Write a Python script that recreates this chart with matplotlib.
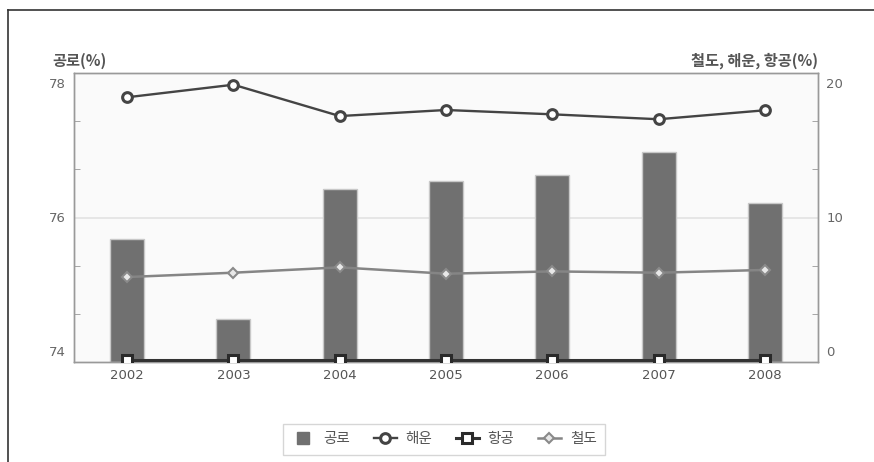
import matplotlib
matplotlib.use("Agg")
import matplotlib.pyplot as plt
from matplotlib.lines import Line2D
import matplotlib.transforms as mtrans
import numpy as np

plt.rcParams['font.family'] = ['Noto Sans CJK KR', 'DejaVu Sans']

years = ['2002', '2003', '2004', '2005', '2006', '2007', '2008']
road = [75.70, 74.59, 76.39, 76.50, 76.59, 76.91, 76.20]        # 공로 (left axis)
sea = [18.32, 19.19, 17.02, 17.44, 17.14, 16.80, 17.42]         # 해운 (right axis)
air = [0.15, 0.15, 0.15, 0.15, 0.15, 0.15, 0.15]                # 항공 (right axis)
rail = [5.88, 6.18, 6.55, 6.11, 6.27, 6.18, 6.37]               # 철도 (right axis)
left_ticks = [74, 76, 78]
right_ticks = [0, 10, 20]

W, H = 874, 462
fig = plt.figure(figsize=(W / 100, H / 100), dpi=100)
fig.patch.set_facecolor('white')

# outer frame lines (top and left)
fig.add_artist(Line2D([8 / W, 1.0], [1 - 10 / H, 1 - 10 / H], color='#333333', lw=1.2))
fig.add_artist(Line2D([8 / W, 8 / W], [0, 1 - 10 / H], color='#333333', lw=1.2))

ax = fig.add_axes([74 / W, 1 - 362 / H, (818 - 74) / W, (362 - 73) / H])
ax.set_facecolor('#fafafa')
x = np.arange(len(years))

ax.set_xlim(-0.5, len(years) - 0.5)
ax.set_ylim(74, 78)
ax.axhline(76, color='#e2e2e2', lw=1.2, zorder=0)
ax.bar(x, [v - 74 for v in road], bottom=74, width=0.32, color='#707070',
       edgecolor='#c8c8c8', linewidth=1, zorder=2)

ax2 = ax.twinx()
ax2.set_ylim(0, 20)
ax2.plot(x, rail, color='#858585', lw=1.8, marker='D', markersize=5.5,
         markerfacecolor='#e8e8e8', markeredgecolor='#8a8a8a', markeredgewidth=1.5, zorder=3)
ax2.plot(x, sea, color='#444444', lw=1.7, marker='o', markersize=7,
         markerfacecolor='white', markeredgecolor='#444444', markeredgewidth=2.2, zorder=4)
ax2.plot(x, air, color='#333333', lw=2.2, marker='s', markersize=7,
         markerfacecolor='white', markeredgecolor='#2a2a2a', markeredgewidth=2.2, zorder=4)

for a in (ax, ax2):
    for s in a.spines.values():
        s.set_color('#999999')
        s.set_linewidth(1)

ax.set_xticks(x)
ax.set_xticklabels(years, color='#555555', fontsize=9.5, family='DejaVu Sans')
ax.tick_params(axis='x', length=0, pad=5)

# y ticks: labels placed slightly inward like the reference
ax.set_yticks(left_ticks)
ax.set_yticklabels([str(t) for t in left_ticks], color='#666666', fontsize=9.5, family='DejaVu Sans')
ax.tick_params(axis='y', length=0, pad=6)
ax2.set_yticks(right_ticks)
ax2.set_yticklabels([str(t) for t in right_ticks], color='#666666', fontsize=9.5, family='DejaVu Sans')
ax2.tick_params(axis='y', length=0, pad=6)

for a in (ax, ax2):
    labs = a.get_yticklabels()
    off_top = mtrans.ScaledTranslation(0, -10 / 100, fig.dpi_scale_trans)
    off_bot = mtrans.ScaledTranslation(0, 11 / 100, fig.dpi_scale_trans)
    labs[-1].set_transform(labs[-1].get_transform() + off_top)
    labs[0].set_transform(labs[0].get_transform() + off_bot)

# small inner ticks at sixths
ax.set_yticks([74 + 4 * k / 6 for k in range(1, 6)], minor=True)
ax.tick_params(axis='y', which='minor', direction='in', length=4, color='#999999', labelleft=False)
ax2.set_yticks([20 * k / 6 for k in range(1, 6)], minor=True)
ax2.tick_params(axis='y', which='minor', direction='in', length=4, color='#999999', labelright=False)

# axis titles
fig.text(52 / W, 1 - 61 / H, '공로(%)', ha='left', va='center', fontsize=11,
         color='#555555', fontweight='bold')
fig.text(818 / W, 1 - 61 / H, '철도, 해운, 항공(%)', ha='right', va='center', fontsize=11,
         color='#555555', fontweight='bold')

handles = [
    Line2D([], [], linestyle='none', marker='s', markersize=9,
           markerfacecolor='#707070', markeredgecolor='#707070'),
    Line2D([], [], color='#444444', lw=1.7, marker='o', markersize=7,
           markerfacecolor='white', markeredgecolor='#444444', markeredgewidth=2.2),
    Line2D([], [], color='#333333', lw=2.2, marker='s', markersize=7,
           markerfacecolor='white', markeredgecolor='#2a2a2a', markeredgewidth=2.2),
    Line2D([], [], color='#858585', lw=1.8, marker='D', markersize=5.5,
           markerfacecolor='#e8e8e8', markeredgecolor='#8a8a8a', markeredgewidth=1.5),
]
leg = fig.legend(handles, ['공로', '해운', '항공', '철도'], loc='center',
                 bbox_to_anchor=(444 / W, 1 - 439.5 / H), ncol=4, frameon=True,
                 fontsize=10.5, handlelength=1.6, handletextpad=0.6, columnspacing=1.6,
                 borderpad=0.55, fancybox=False)
leg.get_frame().set_edgecolor('#cccccc')
leg.get_frame().set_linewidth(1)
for t in leg.get_texts():
    t.set_color('#555555')

fig.savefig('out.png', dpi=100)
